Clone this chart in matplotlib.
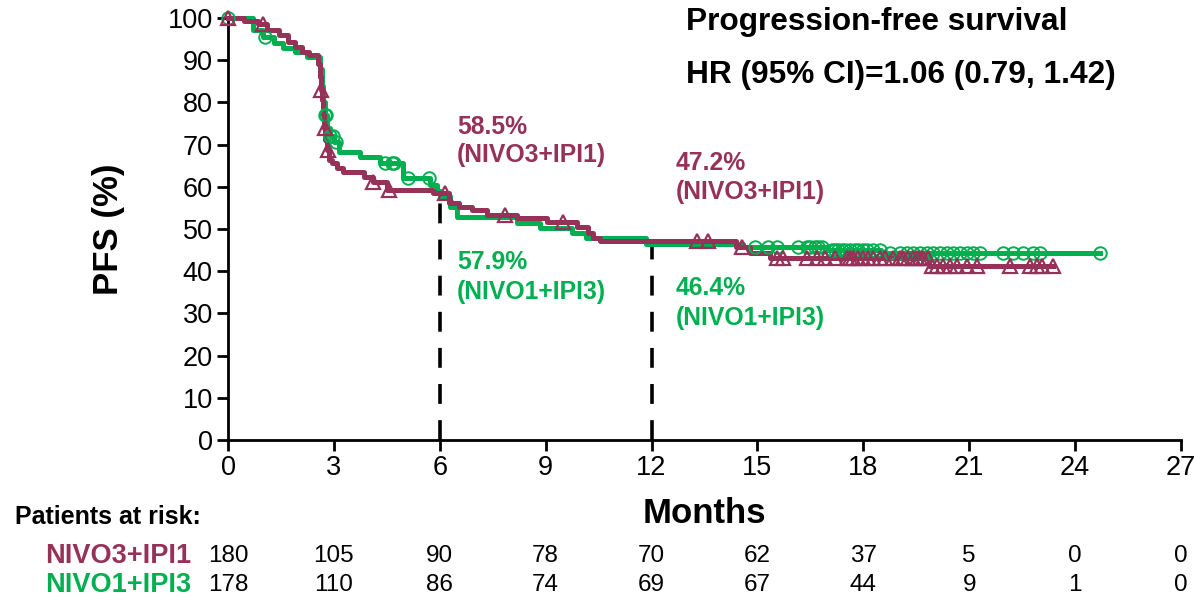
import numpy as np
import matplotlib
matplotlib.use("Agg")
import matplotlib.pyplot as plt
import matplotlib.transforms as mtransforms

plt.rcParams['font.family'] = ['Liberation Sans', 'DejaVu Sans']

MAROON = '#963258'
GREEN = '#00B050'

# ---- data ----
m_times = [0, 0.45, 0.85, 1.1, 1.45, 1.7, 1.9, 2.1, 2.3, 2.55, 2.6, 2.63, 2.66, 2.7, 2.73, 2.76, 2.8,
           2.86, 2.95, 3.1, 3.25, 3.85, 4.1, 4.5, 5.8, 6.25, 6.55, 6.9, 7.35, 8.2, 9.05, 9.9, 10.2,
           10.35, 10.55, 14.4, 14.8, 15.35, 19.85, 23.37]
m_surv = [100, 99.3, 98.6, 97.2, 96.0, 94.3, 93.1, 92.0, 91.2, 89.0, 86, 83, 80.5, 77, 74, 71, 68.7,
          66.4, 65.6, 64.5, 63.5, 62.3, 61.1, 59.2, 58.5, 56.2, 55.3, 54.5, 53.3, 52.6, 51.7, 50.5, 49.0,
          47.9, 47.2, 45.7, 44.3, 43.1, 41.2, 41.2]
m_cens = [0, 1.0, 2.64, 2.74, 2.82, 4.1, 4.55, 6.15, 7.85, 9.5, 13.3, 13.6, 14.56, 15.55, 15.72, 16.40,
          16.69, 16.91, 17.20, 17.54, 17.62, 17.71, 17.85, 17.99, 18.13, 18.27, 18.47, 18.61, 18.84,
          19.04, 19.12, 19.26, 19.41, 19.52, 19.60, 19.69, 19.83, 19.94, 20.08, 20.25, 20.45, 20.65,
          20.93, 21.22, 22.15, 22.72, 22.92, 23.06, 23.37]

g_times = [0, 0.7, 1.0, 1.3, 1.55, 1.9, 2.25, 2.6, 2.65, 2.7, 2.75, 2.8, 2.9, 3.0, 3.15, 3.75, 4.3,
           4.96, 5.72, 5.92, 6.0, 6.3, 6.5, 8.2, 8.85, 9.75, 10.15, 11.85, 14.6, 17.0, 18.5, 24.7]
g_surv = [100, 97.2, 95.5, 94.0, 92.9, 92.0, 90.8, 88, 84, 80, 77, 74, 72, 70.6, 68.2, 67.0, 65.6,
          62.1, 60.4, 59.0, 57.9, 55.2, 52.8, 51.4, 50.2, 49.0, 47.9, 46.4, 45.8, 45.0, 44.3, 44.3]
g_cens = [0, 1.05, 2.76, 2.78, 2.9, 2.97, 3.05, 4.45, 4.65, 4.7, 5.1, 5.7, 14.93, 15.30, 15.55, 16.15,
          16.40, 16.49, 16.63, 16.71, 16.82, 17.11, 17.20, 17.28, 17.39, 17.48, 17.62, 17.76, 17.85,
          17.99, 18.10, 18.27, 18.47, 18.75, 19.04, 19.24, 19.41, 19.60, 19.80, 19.97, 20.17, 20.37,
          20.54, 20.74, 20.93, 21.10, 21.30, 21.95, 22.24, 22.52, 22.80, 23.00, 24.70]

landmarks = [6, 12]
m_landmark = [58.5, 47.2]
g_landmark = [57.9, 46.4]

risk_times = [0, 3, 6, 9, 12, 15, 18, 21, 24, 27]
risk_nivo3 = [180, 105, 90, 78, 70, 62, 37, 5, 0, 0]
risk_nivo1 = [178, 110, 86, 74, 69, 67, 44, 9, 1, 0]


def step_at(times, surv, t):
    idx = np.searchsorted(np.asarray(times), np.asarray(t), side='right') - 1
    return np.asarray(surv)[idx]


W, H = 1194, 601
fig = plt.figure(figsize=(W / 100, H / 100), dpi=100)
ax = fig.add_axes([228 / W, 1 - 440 / H, (1181 - 228) / W, (440 - 18) / H])

lw = 3.6
ax.step(g_times, g_surv, where='post', color=GREEN, lw=lw, clip_on=False, zorder=3)
ax.step(m_times, m_surv, where='post', color=MAROON, lw=lw, clip_on=False, zorder=4)
ax.plot(g_cens, step_at(g_times, g_surv, g_cens), ls='none', marker='o', ms=9, mfc='none',
        mec=GREEN, mew=1.4, clip_on=False, zorder=5)
ax.plot(m_cens, step_at(m_times, m_surv, m_cens), ls='none', marker='^', ms=10.5, mfc='none',
        mec=MAROON, mew=1.6, clip_on=False, zorder=6)

# landmark dashed lines
ax.vlines(landmarks, 0, g_landmark, colors='black', lw=2.6, linestyles=(0, (5.5, 4.5)), zorder=2)

ax.set_xlim(0, 27)
ax.set_ylim(0, 100)
ax.set_xticks(risk_times)
ax.set_yticks(np.arange(0, 101, 10))
ax.spines['top'].set_visible(False)
ax.spines['right'].set_visible(False)
for s in ['left', 'bottom']:
    ax.spines[s].set_linewidth(2.0)
ax.tick_params(axis='both', direction='out', length=8, width=2.0, labelsize=19.5, pad=3)
ax.set_xlabel('Months', fontsize=25, fontweight='bold')
ax.xaxis.set_label_coords(0.5, -0.134)
ax.set_ylabel('PFS (%)', fontsize=25, fontweight='bold')
ax.yaxis.set_label_coords(-0.108, 0.5)

# landmark annotations
tfs = 17.8
ax.text(6.49, 74.2, '58.5%', color=MAROON, fontsize=tfs, fontweight='bold', ha='left', va='center')
ax.text(6.49, 67.5, '(NIVO3+IPI1)', color=MAROON, fontsize=tfs, fontweight='bold', ha='left', va='center')
ax.text(12.69, 65.6, '47.2%', color=MAROON, fontsize=tfs, fontweight='bold', ha='left', va='center')
ax.text(12.69, 58.8, '(NIVO3+IPI1)', color=MAROON, fontsize=tfs, fontweight='bold', ha='left', va='center')
ax.text(6.49, 42.2, '57.9%', color=GREEN, fontsize=tfs, fontweight='bold', ha='left', va='center')
ax.text(6.49, 35.1, '(NIVO1+IPI3)', color=GREEN, fontsize=tfs, fontweight='bold', ha='left', va='center')
ax.text(12.69, 36.0, '46.4%', color=GREEN, fontsize=tfs, fontweight='bold', ha='left', va='center')
ax.text(12.69, 28.9, '(NIVO1+IPI3)', color=GREEN, fontsize=tfs, fontweight='bold', ha='left', va='center')

# title block
fig.text(686 / W, 1 - 22 / H, 'Progression-free survival', fontsize=22.8, fontweight='bold',
         ha='left', va='center')
fig.text(686 / W, 1 - 75 / H, 'HR (95% CI)=1.06 (0.79, 1.42)', fontsize=22.8, fontweight='bold',
         ha='left', va='center')

# risk table
fig.text(15 / W, 1 - 517 / H, 'Patients at risk:', fontsize=18, fontweight='bold', ha='left', va='center')
fig.text(45 / W, 1 - 556 / H, 'NIVO3+IPI1', fontsize=19.5, fontweight='bold', color=MAROON,
         ha='left', va='center')
fig.text(45 / W, 1 - 585 / H, 'NIVO1+IPI3', fontsize=19.5, fontweight='bold', color=GREEN,
         ha='left', va='center')
trans = mtransforms.blended_transform_factory(ax.transData, fig.transFigure)
for t, a, b in zip(risk_times, risk_nivo3, risk_nivo1):
    ax.text(t, 1 - 556 / H, str(a), transform=trans, fontsize=17.5, ha='center', va='center', clip_on=False)
    ax.text(t, 1 - 585 / H, str(b), transform=trans, fontsize=17.5, ha='center', va='center', clip_on=False)

fig.savefig('out.png', dpi=100)
